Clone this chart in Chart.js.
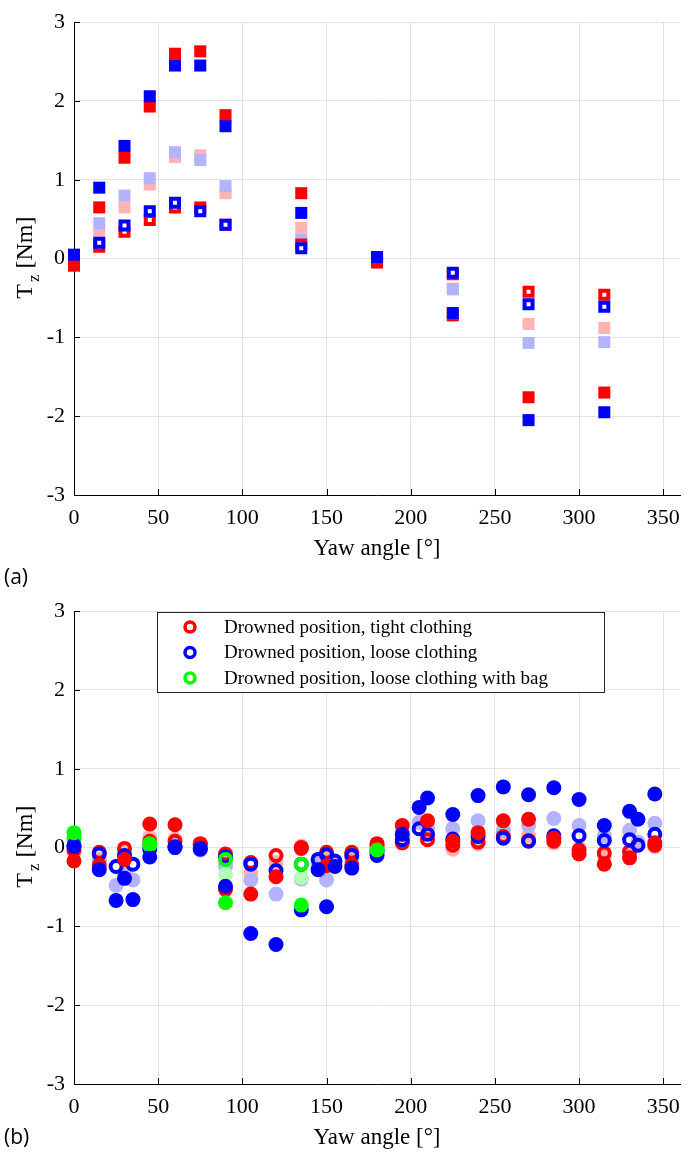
<!DOCTYPE html>
<html>
<head>
<meta charset="utf-8">
<script src="https://cdn.jsdelivr.net/npm/chart.js@4.4.0/dist/chart.umd.min.js"></script>
<style>
  html, body { margin: 0; padding: 0; background: #fff; }
  body { width: 690px; height: 1161px; position: relative; overflow: hidden; }
  .panel { position: absolute; left: 0; width: 690px; }
  #panelA { top: 0; height: 589px; }
  #panelB { top: 589px; height: 572px; }
</style>
</head>
<body>
<div class="panel" id="panelA"><canvas id="chartA" width="690" height="589"></canvas></div>
<div class="panel" id="panelB"><canvas id="chartB" width="690" height="572"></canvas></div>
<script>
// ===================== DATA ===================== //
const xTicks = [0, 50, 100, 150, 200, 250, 300, 350];
const yTicks = [-3, -2, -1, 0, 1, 2, 3];

// panel (a) - squares
const yawA = [0, 15, 30, 45, 60, 75, 90, 135, 180, 225, 270, 315];
const tzA_red = [-0.09, 0.65, 1.28, 1.93, 2.60, 2.63, 1.82, 0.83, -0.05, -0.72, -1.76, -1.70];
const tzA_blue = [0.05, 0.90, 1.43, 2.06, 2.45, 2.45, 1.68, 0.58, 0.02, -0.69, -2.05, -1.95];
const tzA_redLight = [-0.02, 0.31, 0.65, 0.94, 1.29, 1.31, 0.83, 0.39, 0.00, -0.38, -0.83, -0.88];
const tzA_blueLight = [0.00, 0.45, 0.80, 1.02, 1.35, 1.25, 0.92, 0.24, 0.01, -0.39, -1.07, -1.06];
const tzA_redOpen = [0.00, 0.15, 0.34, 0.49, 0.65, 0.65, 0.43, 0.18, 0.00, -0.20, -0.42, -0.46];
const tzA_blueOpen = [0.02, 0.20, 0.42, 0.60, 0.71, 0.60, 0.43, 0.13, 0.02, -0.18, -0.58, -0.61];

// panel (b) - circles
const yawTight = [0, 15, 30, 45, 60, 75, 90, 105, 120, 135, 150, 165, 180, 195, 210, 225, 240, 255, 270, 285, 300, 315, 330, 345];
const yawLoose = [0, 15, 25, 30, 35, 45, 60, 75, 90, 105, 120, 135, 145, 150, 155, 165, 180, 195, 205, 210, 225, 240, 255, 270, 285, 300, 315, 330, 335, 345];
const yawBag = [0, 45, 90, 135, 180];

const tzTight = [-0.17, -0.22, -0.15, 0.30, 0.29, 0.05, -0.53, -0.59, -0.37, 0.00, -0.23, -0.22, 0.05, 0.28, 0.34, 0.08, 0.19, 0.34, 0.36, 0.12, -0.08, -0.21, -0.13, 0.06];
const tzTightLight = [-0.06, -0.15, -0.04, 0.13, 0.11, 0.03, -0.20, -0.32, -0.19, 0.02, -0.10, -0.13, 0.03, 0.12, 0.19, -0.02, 0.05, 0.19, 0.15, 0.06, -0.01, -0.11, -0.09, 0.01];
const tzTightOpen = [-0.03, -0.06, -0.01, 0.08, 0.08, 0.04, -0.08, -0.19, -0.10, -0.01, -0.06, -0.06, 0.02, 0.06, 0.10, 0.03, 0.07, 0.14, 0.09, 0.08, -0.03, -0.07, -0.05, 0.03];

const tzLoose = [0.03, -0.28, -0.67, -0.39, -0.66, -0.12, 0.01, -0.01, -0.49, -1.09, -1.23, -0.79, -0.28, -0.75, -0.24, -0.26, -0.10, 0.17, 0.51, 0.63, 0.42, 0.66, 0.77, 0.67, 0.76, 0.61, 0.28, 0.46, 0.36, 0.68];
const tzLooseLight = [0.00, -0.17, -0.48, -0.33, -0.41, 0.02, 0.02, -0.03, -0.24, -0.41, -0.59, -0.40, -0.20, -0.41, -0.19, -0.15, -0.05, 0.20, 0.32, 0.25, 0.24, 0.34, 0.22, 0.28, 0.37, 0.28, 0.15, 0.22, 0.07, 0.31];
const tzLooseOpen = [0.01, -0.08, -0.24, -0.10, -0.21, -0.02, 0.00, -0.02, -0.12, -0.21, -0.29, -0.21, -0.15, -0.09, -0.17, -0.10, -0.05, 0.10, 0.24, 0.17, 0.11, 0.14, 0.12, 0.08, 0.15, 0.15, 0.09, 0.10, 0.03, 0.17];

const tzBag = [0.19, 0.05, -0.70, -0.73, -0.03];
const tzBagLight = [0.12, 0.04, -0.34, -0.38, -0.02];
const tzBagOpen = [0.12, 0.03, -0.15, -0.21, -0.01];

const legendLabels = [
    "Drowned position, tight clothing",
    "Drowned position, loose clothing",
    "Drowned position, loose clothing with bag"
];

// ===================== HELPERS ===================== //
const RED = "#ff0000", BLUE = "#0000ff", GREEN = "#00ff00";
const RED_L = "#ffb3b3", BLUE_L = "#b3b3ff", GREEN_L = "#b3ffb3";
const SERIF = "'Liberation Serif', 'DejaVu Serif', serif";

function pts(xs, ys) {
    return xs.map((x, i) => ({ x: x, y: ys[i] }));
}

function filledSet(xs, ys, color, style, r) {
    return { data: pts(xs, ys), pointStyle: style, pointRadius: r, pointHoverRadius: r,
        backgroundColor: color, borderColor: color, borderWidth: 0, clip: false };
}

function openSet(xs, ys, color, style, r, bw, face, legendRow) {
    return { label: legendRow === undefined ? "" : legendLabels[legendRow], legendRow: legendRow,
        data: pts(xs, ys), pointStyle: style, pointRadius: r, pointHoverRadius: r,
        backgroundColor: face, borderColor: color, borderWidth: bw, clip: false };
}

// ===================== PLUGINS ===================== //
// MATLAB-like inward ticks, y title with subscript, panel letter
const matlabAxes = {
    id: "matlabAxes",
    beforeDatasetsDraw(chart) {
        const { ctx, chartArea, scales } = chart;
        ctx.save();
        ctx.strokeStyle = "#000";
        ctx.lineWidth = 1;
        ctx.beginPath();
        scales.x.ticks.forEach(t => {
            const px = Math.round(scales.x.getPixelForValue(t.value)) + 0.5;
            ctx.moveTo(px, chartArea.bottom);
            ctx.lineTo(px, chartArea.bottom - 6);
        });
        scales.y.ticks.forEach(t => {
            const py = Math.round(scales.y.getPixelForValue(t.value)) + 0.5;
            ctx.moveTo(chartArea.left, py);
            ctx.lineTo(chartArea.left + 6, py);
        });
        ctx.stroke();
        ctx.restore();
    },
    afterDraw(chart, args, opts) {
        const { ctx, chartArea } = chart;
        // y axis title: T_z [Nm]
        ctx.save();
        ctx.fillStyle = "#000";
        ctx.translate(opts.yTitleX, (chartArea.top + chartArea.bottom) / 2);
        ctx.rotate(-Math.PI / 2);
        ctx.textBaseline = "alphabetic";
        ctx.font = "24px " + SERIF;
        const wT = ctx.measureText("T").width;
        const wRest = ctx.measureText(" [Nm]").width;
        ctx.font = "17px " + SERIF;
        const wZ = ctx.measureText("z").width;
        const x0 = -(wT + wZ + wRest) / 2;
        ctx.font = "24px " + SERIF;
        ctx.fillText("T", x0, 8);
        ctx.font = "17px " + SERIF;
        ctx.fillText("z", x0 + wT + 2, 15);
        ctx.font = "24px " + SERIF;
        ctx.fillText(" [Nm]", x0 + wT + wZ + 2, 8);
        ctx.restore();

        // panel letter
        ctx.save();
        ctx.fillStyle = "#000";
        ctx.font = "21px 'Open Sans', 'Liberation Sans', sans-serif";
        ctx.textBaseline = "middle";
        ctx.fillText(opts.panel, 4, opts.panelY);
        ctx.restore();
    }
};

// legend box drawn inside the plot area (only the hollow series)
const boxLegend = {
    id: "boxLegend",
    afterDraw(chart, args, opts) {
        if (!opts.show) return;
        const { ctx } = chart;
        const items = chart.data.datasets
            .filter(d => d.legendRow !== undefined)
            .sort((a, b) => a.legendRow - b.legendRow);
        ctx.save();
        ctx.fillStyle = "#fff";
        ctx.fillRect(opts.x, opts.y, opts.w, opts.h);
        ctx.strokeStyle = "#262626";
        ctx.lineWidth = 1;
        ctx.strokeRect(opts.x + 0.5, opts.y + 0.5, opts.w, opts.h);
        ctx.font = "19px " + SERIF;
        ctx.textBaseline = "middle";
        items.forEach((d, i) => {
            const cy = opts.y + 15 + i * 25.5;
            ctx.beginPath();
            ctx.arc(opts.x + 33, cy, 5, 0, Math.PI * 2);
            ctx.lineWidth = 3.5;
            ctx.strokeStyle = d.borderColor;
            ctx.stroke();
            ctx.fillStyle = "#000";
            ctx.fillText(d.label, opts.x + 67, cy + 1);
        });
        ctx.restore();
    }
};

// ===================== CHART OPTIONS ===================== //
function makeOptions(panel, padBottom, showLegend) {
    return {
        responsive: false,
        animation: false,
        devicePixelRatio: 1,
        layout: { padding: { top: 15, right: 2, left: 0, bottom: padBottom } },
        plugins: {
            legend: { display: false },
            tooltip: { enabled: false },
            matlabAxes: { panel: panel, panelY: panel === "(a)" ? 578 : 549, yTitleX: 24 },
            boxLegend: { show: showLegend, x: 157, y: 23, w: 447, h: 80 }
        },
        scales: {
            x: {
                type: "linear", min: 0, max: 360,
                afterBuildTicks: axis => { axis.ticks = xTicks.map(v => ({ value: v })); },
                afterFit: axis => { axis.height = 77; },
                grid: { color: "#e3e3e3", drawTicks: false },
                border: { color: "#000", width: 1 },
                ticks: { color: "#000", padding: 10, font: { family: SERIF, size: 22 } },
                title: { display: true, text: "Yaw angle [°]", color: "#000",
                    font: { family: SERIF, size: 23 }, padding: { top: 0, bottom: 9 } }
            },
            y: {
                type: "linear", min: -3, max: 3,
                afterBuildTicks: axis => { axis.ticks = yTicks.map(v => ({ value: v })); },
                afterFit: axis => { axis.width = 74; },
                grid: { color: "#e3e3e3", drawTicks: false },
                border: { color: "#000", width: 1 },
                ticks: { color: "#000", padding: 9, font: { family: SERIF, size: 22 } }
            }
        }
    };
}

// ===================== PANEL (a) ===================== //
// listed top-most first (Chart.js draws dataset 0 last)
const datasetsA = [
    filledSet(yawA, tzA_blue, BLUE, "rect", 8.5),
    filledSet(yawA, tzA_red, RED, "rect", 8.5),
    openSet(yawA, tzA_blueOpen, BLUE, "rect", 5.66, 4, "#fff"),
    openSet(yawA, tzA_redOpen, RED, "rect", 5.66, 4, "#fff"),
    filledSet(yawA, tzA_blueLight, BLUE_L, "rect", 8.5),
    filledSet(yawA, tzA_redLight, RED_L, "rect", 8.5)
];

new Chart(document.getElementById("chartA"), {
    type: "scatter",
    data: { datasets: datasetsA },
    options: makeOptions("(a)", 17, false),
    plugins: [matlabAxes, boxLegend]
});

// ===================== PANEL (b) ===================== //
const datasetsB = [
    filledSet(yawBag, tzBag, GREEN, "circle", 7.5),
    filledSet(yawLoose, tzLoose, BLUE, "circle", 7.5),
    filledSet(yawTight, tzTight, RED, "circle", 7.5),
    openSet(yawBag, tzBagOpen, GREEN, "circle", 5.5, 4, "rgba(255,255,255,0)", 2),
    openSet(yawLoose, tzLooseOpen, BLUE, "circle", 5.5, 4, "rgba(255,255,255,0)", 1),
    openSet(yawTight, tzTightOpen, RED, "circle", 5.5, 4, "rgba(255,255,255,0)", 0),
    filledSet(yawBag, tzBagLight, GREEN_L, "circle", 7.5),
    filledSet(yawLoose, tzLooseLight, BLUE_L, "circle", 7.5),
    filledSet(yawTight, tzTightLight, RED_L, "circle", 7.5)
];

new Chart(document.getElementById("chartB"), {
    type: "scatter",
    data: { datasets: datasetsB },
    options: makeOptions("(b)", 0, true),
    plugins: [matlabAxes, boxLegend]
});
</script>
</body>
</html>
